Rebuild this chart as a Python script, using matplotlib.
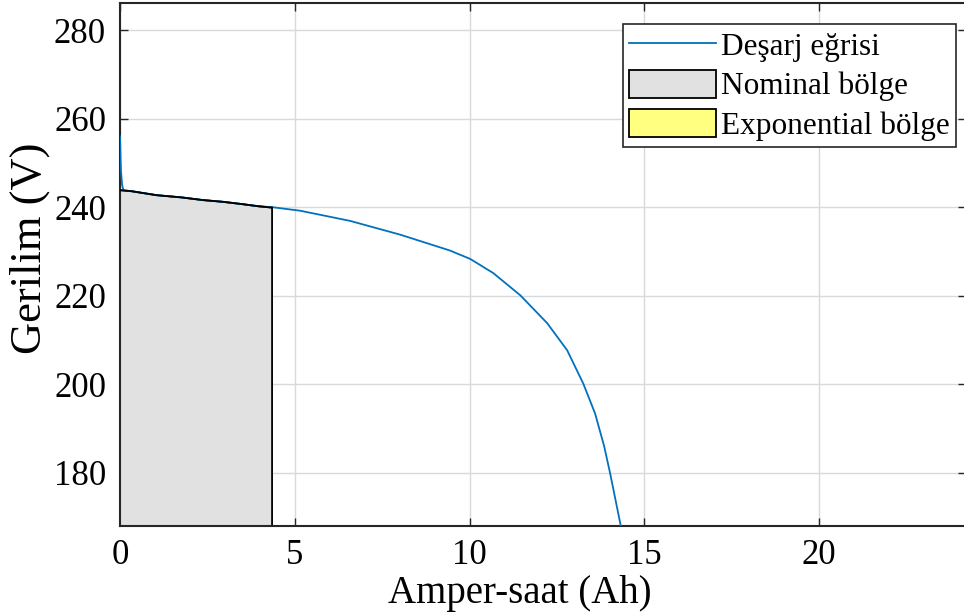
import matplotlib
matplotlib.use("Agg")
import matplotlib.pyplot as plt
from matplotlib.patches import Patch
from matplotlib.lines import Line2D

# Discharge curve (Ah, V)
ah = [0.0, 0.02, 0.03, 0.06, 0.1, 0.33, 1.05, 1.76, 2.37, 2.95, 3.48, 3.96, 4.35,
      5.15, 6.58, 8.01, 9.44, 10.02, 10.68, 11.45, 12.22, 12.79, 13.25, 13.59,
      13.85, 14.02, 14.31, 14.4]
volt = [256.0, 250.0, 248.0, 245.0, 243.8, 243.6, 242.7, 242.2, 241.6, 241.2, 240.7,
        240.2, 240.0, 239.2, 236.9, 233.8, 230.2, 228.3, 225.1, 220.1, 213.8,
        207.7, 200.2, 193.4, 186.0, 179.9, 168.6, 165.0]

# Nominal zone upper boundary
nom_x = [0.0, 0.05, 0.33, 1.05, 1.76, 2.37, 2.95, 3.48, 3.96, 4.35]
nom_y = [243.8, 243.8, 243.6, 242.7, 242.2, 241.6, 241.2, 240.7, 240.2, 239.9]

xticks = [0, 5, 10, 15, 20]
yticks = [180, 200, 220, 240, 260, 280]
xlim = (0, 24.2)
ylim = (168, 286.1)

plt.rcParams['font.family'] = ['Liberation Serif', 'DejaVu Serif']

fig = plt.figure(figsize=(9.64, 6.16), dpi=100)
ax = fig.add_axes([120/964, 90/616, 846/964, 523/616])

blue = '#0072BD'
axcol = '#262626'

# nominal zone
px = [nom_x[0]] + nom_x + [nom_x[-1]]
py = [ylim[0]] + nom_y + [ylim[0]]
ax.fill(px, py, facecolor='#E1E1E1', edgecolor='black', linewidth=1.3, zorder=2)

ax.plot(ah, volt, color=blue, linewidth=1.3, zorder=3)
ax.plot(nom_x, nom_y, color='black', linewidth=1.3, zorder=4)

ax.set_xlim(*xlim)
ax.set_ylim(*ylim)
ax.set_xticks(xticks)
ax.set_yticks(yticks)
ax.grid(True, color='#D9D9D9', linewidth=1.0, zorder=0)
ax.set_axisbelow(True)
ax.tick_params(direction='in', length=6, width=1.0, colors=axcol,
               labelsize=25, top=True, right=True, pad=10)
ax.tick_params(axis='x', pad=9)
for lab in ax.get_xticklabels() + ax.get_yticklabels():
    lab.set_color('black')
for s in ax.spines.values():
    s.set_color(axcol)
    s.set_linewidth(1.5)

ax.set_xlabel('Amper-saat (Ah)', fontsize=28, color='black')
ax.set_ylabel('Gerilim (V)', fontsize=32, color='black')
ax.xaxis.set_label_coords((520 - 120) / 846, -(593 - 526) / 523)
ax.yaxis.set_label_coords(-(120 - 30) / 846, (526 - 248) / 523)
ax.xaxis.label.set_va('center')
ax.yaxis.label.set_va('center')

handles = [Line2D([0], [0], color=blue, linewidth=1.3),
           Patch(facecolor='#E1E1E1', edgecolor='black', linewidth=1.3),
           Patch(facecolor='#FFFF80', edgecolor='black', linewidth=1.3)]
labels = ['Deşarj eğrisi', 'Nominal bölge', 'Exponential bölge']
leg = ax.legend(handles, labels, loc='upper right', bbox_to_anchor=(956/964, 1 - 24/616),
                bbox_transform=fig.transFigure, fontsize=22.5, frameon=True, fancybox=False,
                edgecolor=axcol, framealpha=1, borderpad=0.2, labelspacing=0.25,
                handlelength=2.8, handleheight=1.0, handletextpad=0.15, borderaxespad=0)
leg.get_frame().set_linewidth(1.2)

fig.savefig('out.png', dpi=100)
